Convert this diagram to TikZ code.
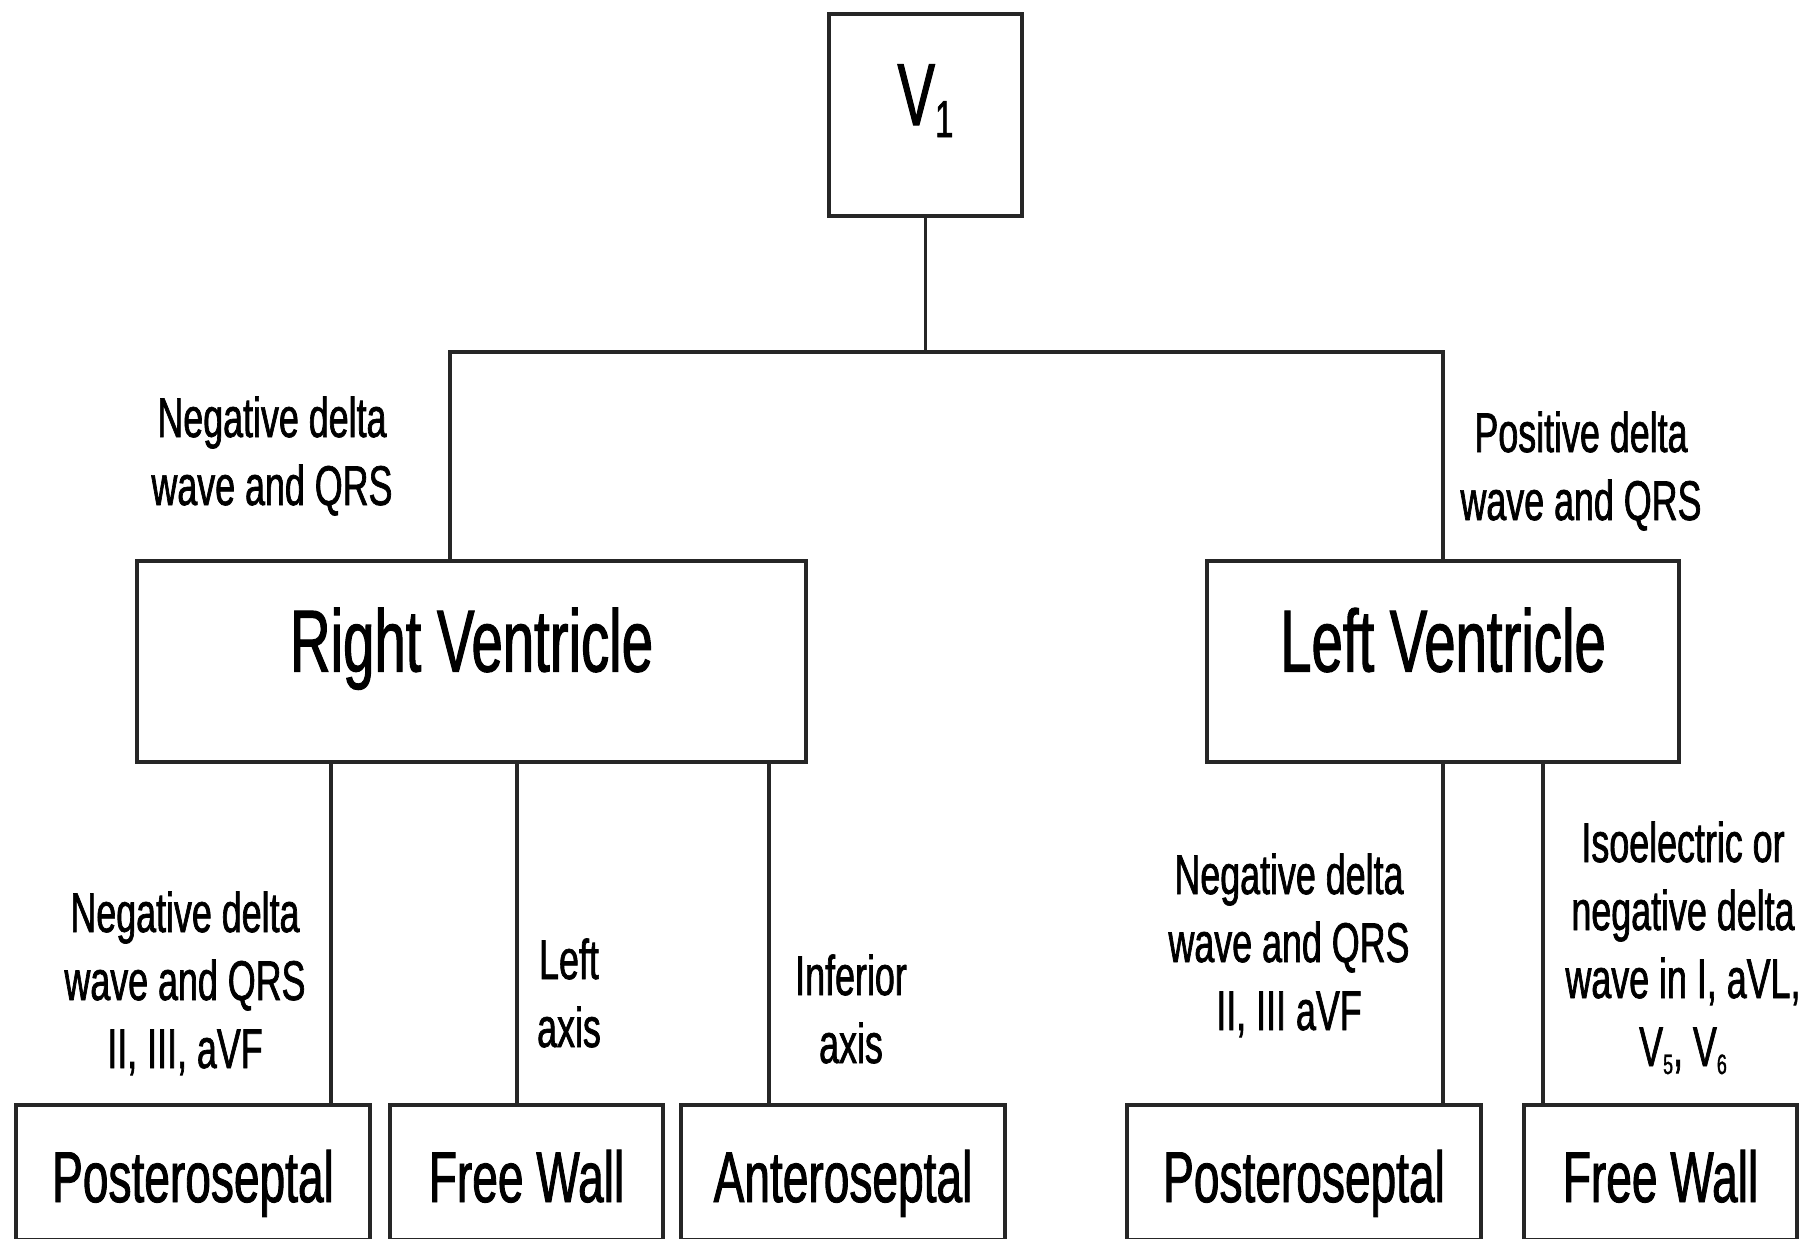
\documentclass[tikz,border=0pt]{standalone}
\usepackage{fontspec}
\setmainfont{Liberation Sans}[FakeStretch=0.64, FakeBold=1.2]
\newcommand{\lowsub}[1]{\raisebox{-8pt}{\fontsize{28}{28}\selectfont #1}}
\begin{document}
\begin{tikzpicture}[x=1pt,y=-1pt,
  box/.style={draw=black!85, line width=4pt, inner sep=0pt, outer sep=0pt, rectangle},
  bigtext/.style={font=\fontsize{88}{100}\selectfont, text height=20pt, text depth=0pt},
  leaftext/.style={font=\fontsize{72}{86}\selectfont, text height=59pt, text depth=0pt,
                   minimum height=135pt},
  lbl/.style={font=\fontsize{56}{68}\selectfont, align=center, inner sep=0pt, anchor=base},
  conn/.style={draw=black!85, line width=3.5pt}]
\useasboundingbox[fill=white] (0,0) rectangle (1804,1239);

% boxes
\node[box, bigtext, minimum width=193pt, minimum height=202pt] (v1) at (925.5,115)
  {V\raisebox{-12pt}{\fontsize{52}{52}\selectfont 1}};
\node[box, bigtext, minimum width=669pt, minimum height=201pt] (rv) at (471.5,661.5) {Right Ventricle};
\node[box, bigtext, minimum width=472pt, minimum height=201pt] (lv) at (1443,661.5) {Left Ventricle};

\node[box, leaftext, minimum width=354pt] (rps) at (193,1172.5) {Posteroseptal};
\node[box, leaftext, minimum width=273pt] (rfw) at (526.5,1172.5) {Free Wall};
\node[box, leaftext, minimum width=324pt] (ras) at (843,1172.5) {Anteroseptal};
\node[box, leaftext, minimum width=354pt] (lps) at (1304,1172.5) {Posteroseptal};
\node[box, leaftext, minimum width=273pt] (lfw) at (1660.5,1172.5) {Free Wall};

% connector positions
\coordinate (split) at (925.5,352);
\coordinate (rtap) at (450,0);
\coordinate (c1) at (331,0);
\coordinate (c2) at (517,0);
\coordinate (c3) at (769,0);
\coordinate (c5) at (1543,0);

\draw[conn] (v1.south) -- (split);
\draw[conn] (rv.north -| rtap) |- (split) -| (lv.north);
\draw[conn] (rv.south -| c1) -- (rps.north -| c1);
\draw[conn] (rv.south -| c2) -- (rfw.north -| c2);
\draw[conn] (rv.south -| c3) -- (ras.north -| c3);
\draw[conn] (lv.south) -- (lps.north -| lv.south);
\draw[conn] (lv.south -| c5) -- (lfw.north -| c5);

% labels (anchor=base is the baseline of the last line)
\node[lbl] (lrv) at (272,505) {Negative delta\\wave and QRS};
\node[lbl] (llv) at (1581,520) {Positive delta\\wave and QRS};
\node[lbl] (lrps) at (185,1068) {Negative delta\\wave and QRS\\II, III, aVF};
\node[lbl] (lrfw) at (569,1047) {Left\\axis};
\node[lbl] (lras) at (851,1063) {Inferior\\axis};
\node[lbl] (llps) at (1289,1030) {Negative delta\\wave and QRS\\II, III aVF};
\node[lbl] (llfw) at (1683,1066) {Isoelectric or\\negative delta\\wave in I, aVL,\\V\lowsub{5}, V\lowsub{6}};
\end{tikzpicture}
\end{document}
